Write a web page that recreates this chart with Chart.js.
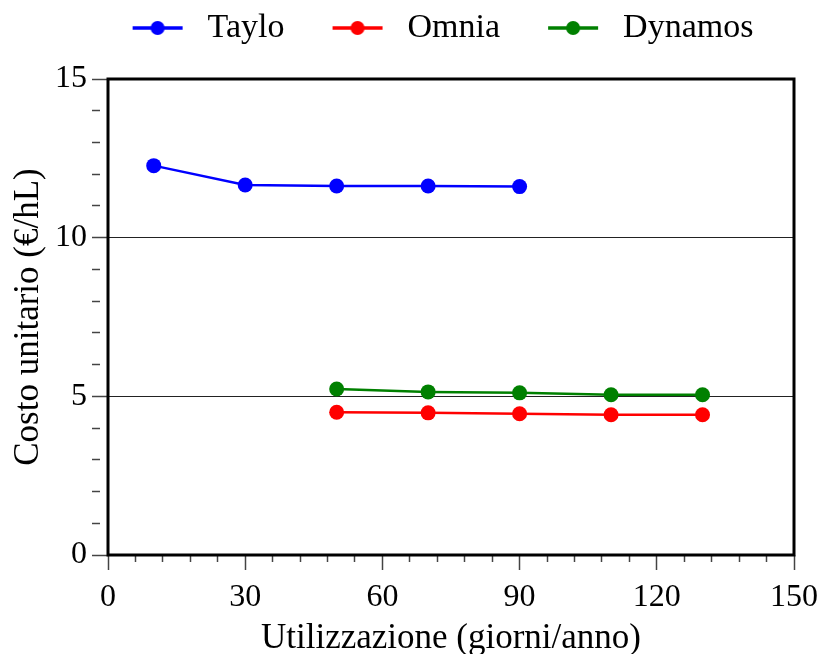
<!DOCTYPE html>
<html>
<head>
<meta charset="utf-8">
<script src="https://cdn.jsdelivr.net/npm/chart.js@4/dist/chart.umd.min.js"></script>
<style>
  body { margin: 0; background: #fff; }
</style>
</head>
<body>
<canvas id="g_costo" width="822" height="654"></canvas>
<script>
// dati
const seriesNames = ["Taylo", "Omnia", "Dynamos"];
const seriesColors = ["#0000ff", "#ff0000", "#008000"];
const tayloX = [10, 30, 50, 70, 90];
const tayloY = [12.27, 11.66, 11.63, 11.63, 11.61];
const omniaX = [50, 70, 90, 110, 130];
const omniaY = [4.50, 4.48, 4.45, 4.42, 4.42];
const dynamosX = [50, 70, 90, 110, 130];
const dynamosY = [5.23, 5.14, 5.11, 5.05, 5.05];
const xTitle = "Utilizzazione (giorni/anno)";
const yTitle = "Costo unitario (€/hL)";

function toPoints(xs, ys) {
    return xs.map(function(x, i) {
        return { x: x, y: ys[i] };
    });
}

//icona legenda : linea con pallino
function makeIcon(color) {
    const c = document.createElement("canvas");
    c.width = 96;
    c.height = 16;
    const g = c.getContext("2d");
    g.strokeStyle = color;
    g.lineWidth = 3.5;
    g.beginPath();
    g.moveTo(38, 8);
    g.lineTo(88, 8);
    g.stroke();
    g.fillStyle = color;
    g.beginPath();
    g.arc(63, 8, 7, 0, Math.PI * 2);
    g.fill();
    return c;
}

// cornice attorno all'area del grafico
const frame = {
    id: "frame",
    afterDatasetsDraw(chart) {
        const { ctx, chartArea: a } = chart;
        ctx.save();
        ctx.strokeStyle = "#000";
        ctx.lineWidth = 3;
        ctx.strokeRect(a.left, a.top, a.right - a.left, a.bottom - a.top);
        ctx.restore();
    }
};

// spazio sotto la legenda
const legendSpace = {
    id: "legendSpace",
    beforeInit(chart) {
        const fit = chart.legend.fit;
        chart.legend.fit = function() {
            fit.bind(chart.legend)();
            this.height += 24;
        };
    }
};

Chart.defaults.font.family = "'Liberation Serif', 'Times New Roman', serif";
Chart.defaults.color = "#000";

const datasets = [
    { label: seriesNames[0], data: toPoints(tayloX, tayloY) },
    { label: seriesNames[1], data: toPoints(omniaX, omniaY) },
    { label: seriesNames[2], data: toPoints(dynamosX, dynamosY) }
].map(function(ds, i) {
    ds.borderColor = seriesColors[i];
    ds.backgroundColor = seriesColors[i];
    ds.borderWidth = 2.5;
    ds.pointRadius = 7.5;
    ds.pointBorderWidth = 0;
    ds.tension = 0;
    return ds;
});

const ctx = document.getElementById("g_costo").getContext("2d");
const chart = new Chart(ctx, {
    type: "line",
    data: { datasets: datasets },
    plugins: [frame, legendSpace],
    options: {
        responsive: false,
        animation: false,
        layout: { padding: { left: 28, right: 2, top: 1, bottom: 0 } },
        plugins: {
            tooltip: { enabled: false },
            legend: {
                labels: {
                    usePointStyle: true,
                    pointStyleWidth: 96,
                    padding: 10,
                    font: { size: 34 },
                    generateLabels(chart) {
                        const items = Chart.defaults.plugins.legend.labels.generateLabels(chart);
                        items.forEach(function(it, i) {
                            it.pointStyle = makeIcon(seriesColors[i]);
                        });
                        return items;
                    }
                }
            }
        },
        scales: {
            x: {
                type: "linear",
                min: 0,
                max: 150,
                afterFit(scale) { scale.height = 99; },
                border: { display: false },
                grid: {
                    drawOnChartArea: false,
                    tickLength: 15,
                    tickColor: "#444",
                    tickWidth: 1.5,
                    tickBorderDash: function(c) {
                        return c.tick && c.tick.value % 30 === 0 ? [] : [7, 100];
                    }
                },
                ticks: {
                    stepSize: 6,
                    autoSkip: false,
                    maxRotation: 0,
                    minRotation: 0,
                    padding: 4,
                    font: { size: 32, lineHeight: 1.45 },
                    callback: function(v) { return v % 30 === 0 ? v : ""; }
                },
                title: {
                    display: true,
                    text: xTitle,
                    font: { size: 35, lineHeight: 1 },
                    padding: { top: 0, bottom: -2 }
                }
            },
            y: {
                min: 0,
                max: 15,
                afterFit(scale) { scale.width = 80; },
                border: { display: false },
                grid: {
                    color: function(c) {
                        return c.tick && (c.tick.value === 5 || c.tick.value === 10) ? "#222" : "rgba(0,0,0,0)";
                    },
                    lineWidth: 1,
                    tickLength: 16,
                    tickColor: "#444",
                    tickWidth: 1.5,
                    tickBorderDash: function(c) {
                        return c.tick && c.tick.value % 5 === 0 ? [] : [8, 100];
                    }
                },
                ticks: {
                    stepSize: 1,
                    autoSkip: false,
                    padding: 5,
                    font: { size: 32 },
                    callback: function(v) { return v % 5 === 0 ? v : ""; }
                },
                title: {
                    display: true,
                    text: yTitle,
                    font: { size: 35, lineHeight: 1 },
                    padding: { top: -17, bottom: 0 }
                }
            }
        }
    }
});
</script>
</body>
</html>
